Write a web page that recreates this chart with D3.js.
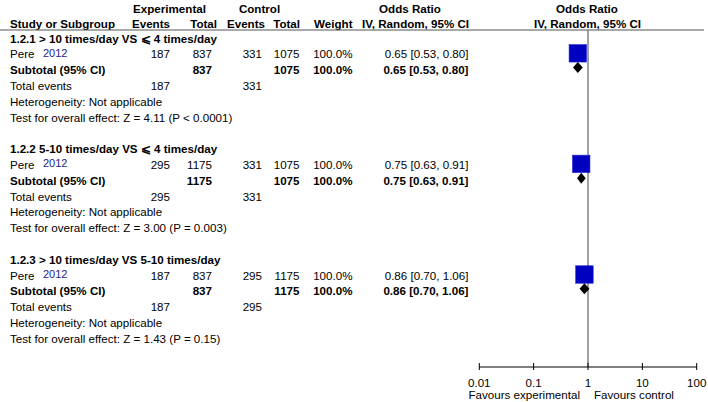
<!DOCTYPE html>
<html><head><meta charset="utf-8">
<script src="https://cdn.jsdelivr.net/npm/d3@7"></script>
<style>
html,body{margin:0;padding:0;background:#fff;}
svg{display:block;font-family:"Liberation Sans",Arial,sans-serif;}
</style></head>
<body>
<svg id="c" width="708" height="402"></svg>
<script>
const groupLabels = ["1.2.1 > 10 times/day VS \u2A7D 4 times/day", "1.2.2 5-10 times/day VS \u2A7D 4 times/day", "1.2.3 > 10 times/day VS 5-10 times/day"];
const studyNames = ["Pere", "Pere", "Pere"];
const studyYears = ["2012", "2012", "2012"];
const expEvents = [187, 295, 187];
const expTotal = [837, 1175, 837];
const ctrlEvents = [331, 331, 295];
const ctrlTotal = [1075, 1075, 1175];
const weights = ["100.0%", "100.0%", "100.0%"];
const oddsRatio = [0.65, 0.75, 0.86];
const ciLow = [0.53, 0.63, 0.70];
const ciHigh = [0.80, 0.91, 1.06];
const zValues = ["4.11", "3.00", "1.43"];
const pValues = ["P < 0.0001", "P = 0.003", "P = 0.15"];
const axisTicks = [0.01, 0.1, 1, 10, 100];
const axisTickLabels = ["0.01", "0.1", "1", "10", "100"];

const svg = d3.select("#c");
const FS = 11.6;
const x = d3.scaleLog().domain([0.01, 100]).range([479.3, 696.7]);
const row = d3.scaleLinear().domain([0, 1]).range([38, 53.8]);

function txt(t, xx, yy, anchor, bold, color, size) {
  return svg.append("text").attr("x", xx).attr("y", yy)
    .attr("text-anchor", anchor || "start")
    .attr("dominant-baseline", "central")
    .attr("font-size", size || FS)
    .attr("font-weight", bold ? "bold" : "normal")
    .attr("fill", color || "#000")
    .text(t);
}

// headers
txt("Experimental", 169.5, 8, "middle", true);
txt("Control", 259.5, 8, "middle", true);
txt("Odds Ratio", 410, 8, "middle", true);
txt("Odds Ratio", 587, 8, "middle", true);
txt("Study or Subgroup", 10, 23.5, "start", true);
txt("Events", 170, 23.5, "end", true);
txt("Total", 217, 23.5, "end", true);
txt("Events", 265, 23.5, "end", true);
txt("Total", 300, 23.5, "end", true);
txt("Weight", 352.5, 23.5, "end", true);
txt("IV, Random, 95% CI", 415.5, 23.5, "middle", true);
txt("IV, Random, 95% CI", 587.5, 23.5, "middle", true);

svg.append("line").attr("x1", 0).attr("x2", 704).attr("y1", 30).attr("y2", 30)
  .attr("stroke", "#555").attr("stroke-width", 1);

// reference line at OR = 1
svg.append("line").attr("x1", x(1)).attr("x2", x(1)).attr("y1", 30).attr("y2", 367)
  .attr("stroke", "#808080").attr("stroke-width", 1.5);

const fmt = d3.format(".2f");
groupLabels.forEach((g, i) => {
  const r0 = i * 7;
  txt(g, 10, row(r0), "start", true);
  // study row
  const ys = row(r0 + 1);
  txt(studyNames[i], 10, ys, "start", false);
  txt(studyYears[i], 43, ys - 1, "start", false, "#1c1c88", 11);
  txt(expEvents[i], 170, ys, "end");
  txt(expTotal[i], 212, ys, "end");
  txt(ctrlEvents[i], 262, ys, "end");
  txt(ctrlTotal[i], 299.5, ys, "end");
  txt(weights[i], 352.5, ys, "end");
  txt(`${fmt(oddsRatio[i])} [${fmt(ciLow[i])}, ${fmt(ciHigh[i])}]`, 468.5, ys, "end");
  // subtotal
  const yt = row(r0 + 2);
  txt("Subtotal (95% CI)", 10, yt, "start", true);
  txt(expTotal[i], 212, yt, "end", true);
  txt(ctrlTotal[i], 299.5, yt, "end", true);
  txt(weights[i], 352.5, yt, "end", true);
  txt(`${fmt(oddsRatio[i])} [${fmt(ciLow[i])}, ${fmt(ciHigh[i])}]`, 468.5, yt, "end", true);
  // totals
  const ye = row(r0 + 3);
  txt("Total events", 10, ye, "start");
  txt(expEvents[i], 170, ye, "end");
  txt(ctrlEvents[i], 262, ye, "end");
  txt("Heterogeneity: Not applicable", 10, row(r0 + 4), "start");
  txt(`Test for overall effect: Z = ${zValues[i]} (${pValues[i]})`, 10, row(r0 + 5), "start");

  // CI line and square
  const ysq = ys - 0.5;
  svg.append("line").attr("x1", x(ciLow[i])).attr("x2", x(ciHigh[i]))
    .attr("y1", ysq).attr("y2", ysq).attr("stroke", "#000").attr("stroke-width", 1);
  const s = 17.5;
  svg.append("rect").attr("x", x(oddsRatio[i]) - s / 2).attr("y", ysq - s / 2)
    .attr("width", s).attr("height", s).attr("fill", "#0000c0")
    .attr("stroke", "#2a2ad8").attr("stroke-width", 0.6);
  // diamond
  const yd = yt - 2, h = 5.5;
  svg.append("path").attr("d",
    `M${x(ciLow[i])},${yd} L${x(oddsRatio[i])},${yd - h} L${x(ciHigh[i])},${yd} L${x(oddsRatio[i])},${yd + h} Z`)
    .attr("fill", "#000");
});

// axis
const axisY = 367;
svg.append("line").attr("x1", x(0.01)).attr("x2", x(100)).attr("y1", axisY).attr("y2", axisY)
  .attr("stroke", "#000").attr("stroke-width", 1);
axisTicks.forEach((t, i) => {
  svg.append("line").attr("x1", x(t)).attr("x2", x(t)).attr("y1", axisY - 4).attr("y2", axisY + 3)
    .attr("stroke", "#000").attr("stroke-width", 1);
  txt(axisTickLabels[i], x(t), 382.5, "middle");
});
txt("Favours experimental", 580, 394.5, "end");
txt("Favours control", 594, 394.5, "start");
</script>
</body></html>
